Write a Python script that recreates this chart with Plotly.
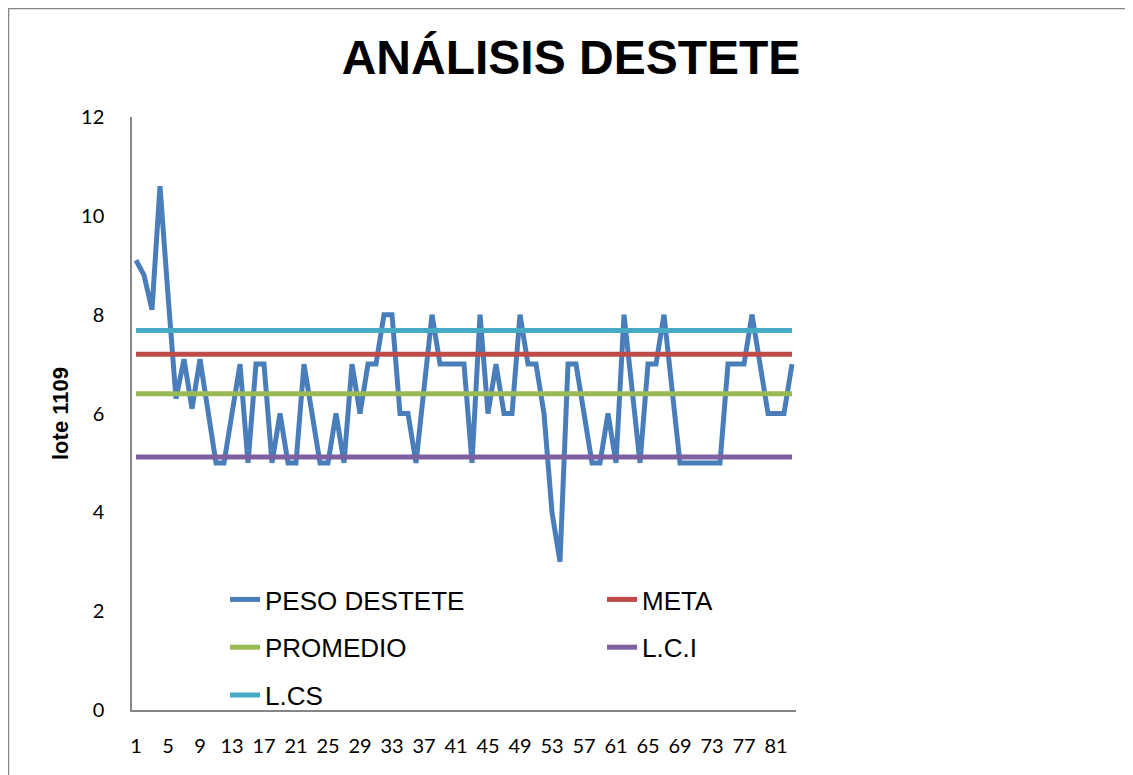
import plotly.graph_objects as go

# muestras (eje x categórico 1..83)
muestra = list(range(1, 84))

peso_destete = [
    9.1, 8.8, 8.1, 10.6, 8.4, 6.3, 7.1, 6.1, 7.1, 6.0,
    5, 5, 6, 7, 5, 7, 7, 5, 6, 5,
    5, 7, 6, 5, 5, 6, 5, 7, 6, 7,
    7, 8, 8, 6, 6, 5, 6.5, 8, 7, 7,
    7, 7, 5, 8, 6, 7, 6, 6, 8, 7,
    7, 6, 4, 3, 7, 7, 6, 5, 5, 6,
    5, 8, 6.5, 5, 7, 7, 8, 6.5, 5, 5,
    5, 5, 5, 5, 7, 7, 7, 8, 7, 6,
    6, 6, 7,
]
meta = [7.2] * len(muestra)
promedio = [6.4] * len(muestra)
lci = [5.12] * len(muestra)
lcs = [7.68] * len(muestra)

tick_vals = list(range(1, 84, 4))
y_ticks = [0, 2, 4, 6, 8, 10, 12]

series = [
    ("PESO DESTETE", peso_destete, "#4A7EBB", "legend"),
    ("META", meta, "#BE4B48", "legend2"),
    ("PROMEDIO", promedio, "#98B954", "legend"),
    ("L.C.I", lci, "#7D60A0", "legend2"),
    ("L.CS", lcs, "#46AAC5", "legend"),
]

fig = go.Figure()
for name, vals, color, leg in series:
    fig.add_trace(go.Scatter(
        x=muestra, y=vals, name=name, mode="lines",
        line=dict(color=color, width=5),
        legend=leg, legendgroup=name,
    ))

# the page puts the figure at an 8px offset, so the layout is in figure pixels
W, H = 1125, 767
L, R, T, B = 124, 337, 109, 65
pw, ph = W - L - R, H - T - B

axis_font = dict(family="Lato, Arial, sans-serif", size=20, color="#000000")
leg_font = dict(family="Liberation Sans, Arial, sans-serif", size=26, color="#000000")

leg_y = (H - B - 568) / ph

fig.update_layout(
    width=W, height=H,
    margin=dict(l=L, r=R, t=T, b=B),
    paper_bgcolor="white", plot_bgcolor="white",
    title=dict(
        text="<b>ANÁLISIS DESTETE</b>",
        font=dict(family="Liberation Sans, Arial, sans-serif", size=48, color="#000000"),
        x=563 / W, xanchor="center", y=1 - 49 / H, yanchor="middle",
    ),
    xaxis=dict(
        range=[0.5, 83.5], tickvals=tick_vals, tickfont=axis_font,
        showgrid=False, zeroline=False, showline=True, linecolor="#868686",
        linewidth=1.5, ticks="", ticklabelstandoff=17,
    ),
    yaxis=dict(
        range=[0, 12], tickvals=y_ticks, tickfont=axis_font,
        showgrid=False, zeroline=False, showline=True, linecolor="#868686",
        linewidth=1.5, ticks="", ticklabelstandoff=22,
        title=dict(text="<b>lote 1109</b>", standoff=6,
                   font=dict(family="Liberation Sans, Arial, sans-serif", size=22, color="#000000")),
    ),
    legend=dict(
        x=(217 - L) / pw, xanchor="left", y=leg_y, yanchor="top",
        font=leg_font, bgcolor="rgba(0,0,0,0)", tracegroupgap=11,
    ),
    legend2=dict(
        x=(594 - L) / pw, xanchor="left", y=leg_y, yanchor="top",
        font=leg_font, bgcolor="rgba(0,0,0,0)", tracegroupgap=11,
    ),
    shapes=[dict(
        type="rect", xref="paper", yref="paper",
        x0=(0 - L) / pw, x1=1.8, y0=-0.3, y1=(H - B) / ph,
        line=dict(color="#868686", width=2.5), fillcolor="rgba(0,0,0,0)",
        layer="below",
    )],
)

fig.write_html("out.html")
